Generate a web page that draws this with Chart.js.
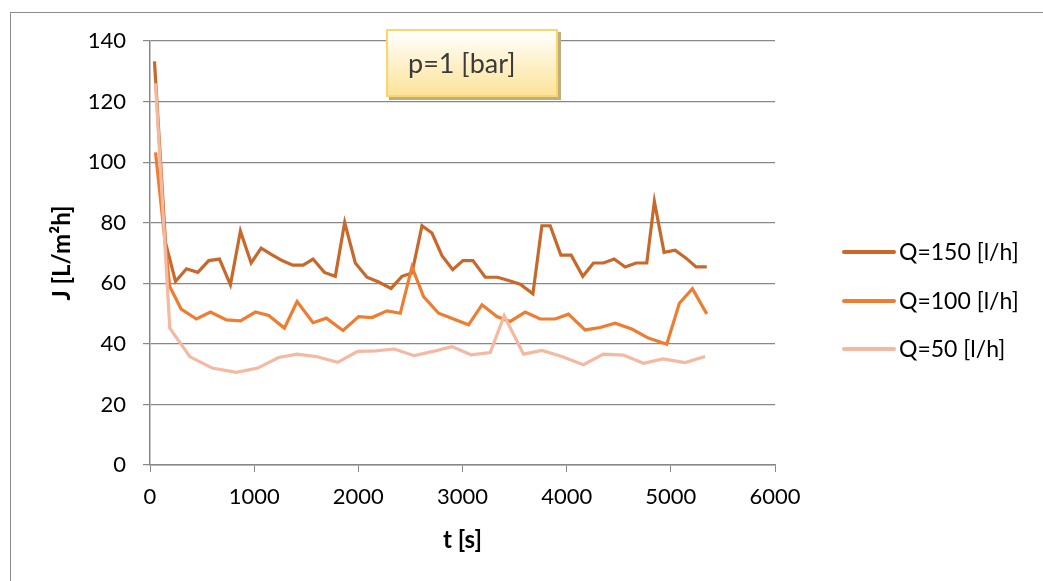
<!DOCTYPE html>
<html>
<head>
<meta charset="utf-8">
<script src="https://cdn.jsdelivr.net/npm/chart.js@4.4.1/dist/chart.umd.min.js"></script>
<style>
  body { margin: 0; background: #fff; font-family: Lato, sans-serif; }
  #wrap { position: relative; width: 1043px; height: 581px; overflow: hidden; }
  #frame { position: absolute; left: 10px; top: 12px; right: -2px; bottom: -2px;
           border-left: 1px solid #8c8c8c; border-top: 1px solid #8c8c8c; }
  #mycanvas { position: absolute; left: 0; top: 0; }
  #pbox { position: absolute; left: 386px; top: 29px; width: 148px; height: 64px;
          border: 2px solid #fcd66c; box-shadow: 3px 3px 0 #bfae7e;
          background: linear-gradient(#ffffff 0%, #fef3cf 45%, #fde39a 100%);
          color: #3b3b3b; font-size: 27px; line-height: 64px; padding-left: 20px; }
  .leg { position: absolute; left: 842px; height: 30px; font-size: 23px; color: #000; white-space: nowrap; }
  .leg span.ln { position: absolute; left: 0; top: 14px; width: 54px; height: 4px; border-radius: 2px; }
  .leg span.tx { position: absolute; left: 57px; top: 0; line-height: 30px; }
</style>
</head>
<body>
<div id="wrap">
  <div id="frame"></div>
  <canvas id="mycanvas" width="1043" height="581"></canvas>
  <div id="pbox">p=1 [bar]</div>
  <div id="legend"></div>
</div>
<script>
// times [s] and flux J [L/m2h]
var t150 = [43, 149, 245, 350, 459, 564, 667, 772, 868, 971, 1067, 1172, 1268, 1370, 1470, 1565, 1674, 1779,
  1869, 1971, 2083, 2195, 2314, 2419, 2515, 2611, 2707, 2803, 2906, 3004, 3100, 3218, 3336, 3442, 3554, 3676,
  3762, 3842, 3944, 4043, 4155, 4257, 4353, 4456, 4561, 4667, 4769, 4842, 4935, 5041, 5146, 5242, 5345];
var j150 = [133.3, 73.4, 60.6, 64.8, 63.6, 67.5, 68, 59.5, 77.2, 66.7, 71.6, 69.4, 67.5, 66, 66, 68, 63.6, 62.3,
  80.1, 66.7, 62, 60.4, 58.3, 62.3, 63.4, 79, 76.6, 69.1, 64.5, 67.5, 67.5, 62, 62, 60.9, 59.7, 56.5,
  79, 79, 69.3, 69.3, 62.3, 66.7, 66.7, 68, 65.4, 66.7, 66.7, 87, 70.2, 70.9, 68.3, 65.4, 65.4];

var t100 = [53, 190, 299, 446, 580, 734, 868, 1012, 1140, 1290, 1412, 1565, 1693, 1853, 2003, 2131, 2275, 2403,
  2515, 2626, 2770, 2914, 3058, 3187, 3330, 3458, 3602, 3746, 3890, 4017, 4177, 4321, 4465, 4625, 4785, 4961,
  5082, 5207, 5345];
var j100 = [103.2, 58.9, 51.5, 48.2, 50.5, 47.9, 47.6, 50.5, 49.4, 45.2, 54, 47, 48.5, 44.4, 49, 48.7, 50.9, 50.1,
  65.4, 55.6, 50.1, 48.2, 46.3, 52.9, 49, 47.4, 50.5, 48.2, 48.2, 49.8, 44.6, 45.4, 46.8, 44.9, 41.9, 39.9,
  53.4, 58.2, 49.9];

var t50 = [53, 190, 382, 597, 830, 1034, 1235, 1412, 1597, 1801, 1993, 2163, 2345, 2537, 2717, 2899, 3081, 3266,
  3400, 3586, 3762, 3954, 4161, 4353, 4545, 4737, 4923, 5137, 5329];
var j50 = [126, 45.2, 35.8, 32, 30.6, 32, 35.5, 36.6, 35.8, 33.9, 37.5, 37.7, 38.3, 36.1, 37.5, 39.1, 36.4, 37.1,
  49.3, 36.6, 37.8, 35.8, 33.1, 36.6, 36.3, 33.6, 35, 33.8, 35.8];

var seriesNames = ['Q=150 [l/h]', 'Q=100 [l/h]', 'Q=50 [l/h]'];
var seriesColors = ['#c8682a', '#ef7d31', '#f5b8a0'];

function toPoints(tx, jy) {
  var pts = [];
  for (var i = 0; i < tx.length; i++) pts.push({ x: tx[i], y: jy[i] });
  return pts;
}

var allT = [t150, t100, t50];
var allJ = [j150, j100, j50];
var datasets = [];
for (var s = 0; s < 3; s++) {
  datasets.push({
    label: seriesNames[s],
    data: toPoints(allT[s], allJ[s]),
    borderColor: seriesColors[s],
    backgroundColor: seriesColors[s],
    borderWidth: 3.2,
    pointRadius: 0,
    tension: 0,
    order: 2 - s   // later series on top, like the original
  });
}

// html legend
var legY = [236, 285, 333];
var legHtml = '';
for (var k = 0; k < 3; k++) {
  legHtml += '<div class="leg" style="top:' + legY[k] + 'px"><span class="ln" style="background:' + seriesColors[k] +
    '"></span><span class="tx">' + seriesNames[k] + '</span></div>';
}
document.getElementById('legend').innerHTML = legHtml;

Chart.defaults.font.family = 'Lato, sans-serif';
Chart.defaults.color = '#000';

var gridGray = '#888888';

new Chart(document.getElementById('mycanvas'), {
  type: 'line',
  data: { datasets: datasets },
  options: {
    responsive: false,
    animation: false,
    layout: { padding: { left: 0, top: 41, right: 268, bottom: 0 } },
    plugins: { legend: { display: false }, tooltip: { enabled: false } },
    scales: {
      x: {
        type: 'linear',
        min: 0, max: 6000,
        ticks: { stepSize: 1000, padding: 12, font: { size: 22 }, maxRotation: 0,
                 callback: function(v) { return String(v); } },
        grid: { drawOnChartArea: false, drawTicks: true, tickLength: 7, color: gridGray },
        border: { color: gridGray, width: 1.5 },
        title: { display: true, text: 't [s]', font: { size: 24, weight: 'bold' }, padding: { bottom: 26 } },
        afterFit: function(scale) { scale.height = 116; }
      },
      y: {
        min: 0, max: 140,
        ticks: { stepSize: 20, padding: 17, font: { size: 22 } },
        grid: { drawTicks: true, tickLength: 7, color: gridGray, lineWidth: 1.2 },
        border: { color: gridGray, width: 1.5 },
        title: { display: true, text: 'J [L/m²h]', font: { size: 24, weight: 'bold' }, padding: { top: 48 } },
        afterFit: function(scale) { scale.width = 150; }
      }
    }
  }
});
</script>
</body>
</html>
